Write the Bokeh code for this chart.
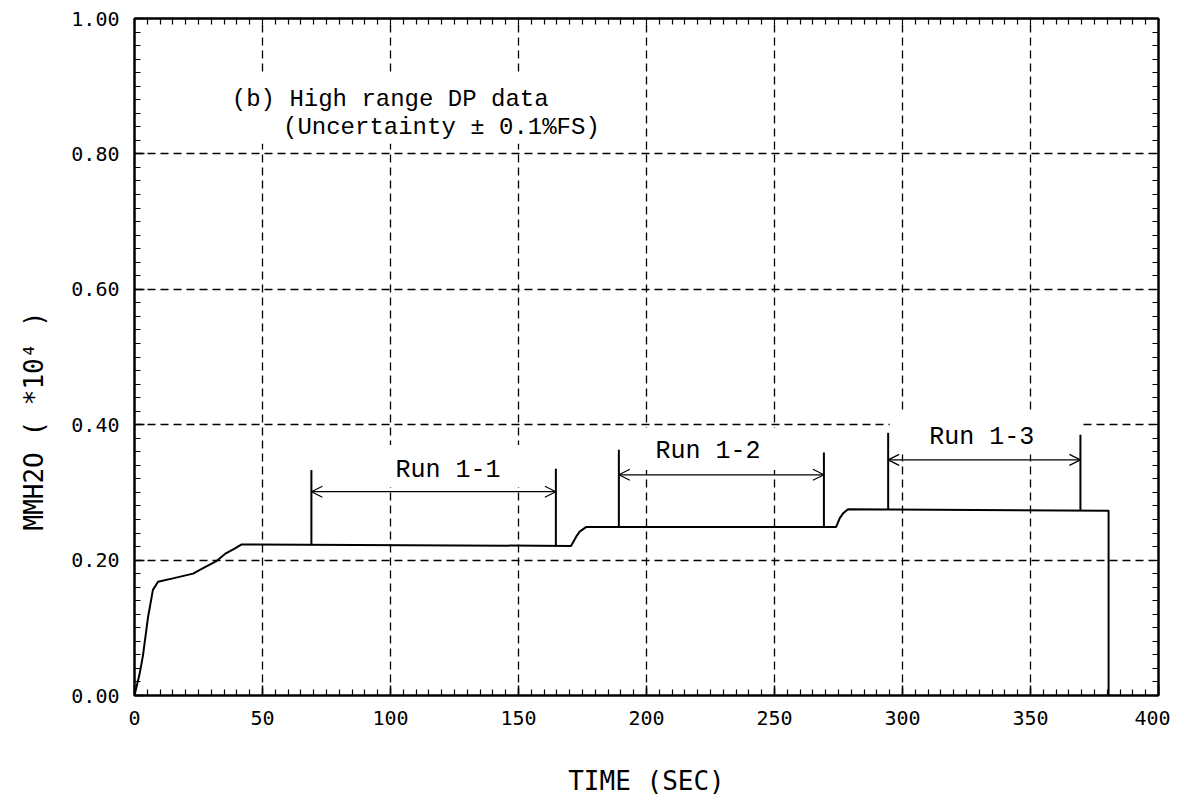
import math
from bokeh.plotting import figure
from bokeh.models import (Range1d, LinearAxis, SingleIntervalTicker, FixedTicker,
                          PrintfTickFormatter, Label, Arrow, OpenHead, Title)
from bokeh.core.properties import value
from bokeh.embed import file_html
from bokeh.resources import INLINE

# ---- data ----
time_s = [0, 2.0, 3.3, 5.3, 7.2, 9.2, 15.0, 22.9, 26.8, 31.8, 35.7, 39.1, 41.7,
          170.5, 172.6, 173.9, 176.5, 274.1, 275.5, 276.8, 278.7, 380.5, 380.5]
dp = [0.0, 0.032, 0.059, 0.116, 0.156, 0.168, 0.173, 0.180, 0.188, 0.198, 0.210, 0.217, 0.223,
      0.221, 0.235, 0.242, 0.249, 0.249, 0.262, 0.269, 0.275, 0.273, 0.0]

run_names = ["Run 1-1", "Run 1-2", "Run 1-3"]
run_start = [69.1, 189.2, 294.4]
run_end = [164.6, 269.3, 369.5]
run_base = [0.222, 0.249, 0.274]
run_top_start = [0.333, 0.363, 0.388]
run_top_end = [0.335, 0.359, 0.385]
run_arrow_y = [0.301, 0.326, 0.348]
run_label_x = [122.5, 224.0, 331.0]
run_label_y = [0.333, 0.360, 0.381]

x_tick_interval = 50
y_tick_interval = 0.2
x_minor_ticks = list(range(0, 401, 5))
y_minor_ticks = [i / 50 for i in range(51)]

TICK_FONT = "DejaVu Sans Mono"
NOTE_FONT = "Liberation Mono"

p = figure(x_range=Range1d(0, 400), y_range=Range1d(0, 1),
           frame_width=1024, frame_height=677,
           min_border_left=133, min_border_right=12, min_border_top=18, min_border_bottom=86,
           output_backend="svg", toolbar_location=None,
           x_axis_label="TIME (SEC)")
p.background_fill_color = "white"
p.border_fill_color = "white"
p.outline_line_color = "black"
p.outline_line_width = 2

xt = SingleIntervalTicker(interval=x_tick_interval, num_minor_ticks=10)
yt = SingleIntervalTicker(interval=y_tick_interval, num_minor_ticks=10)


def style_axis(ax):
    ax.axis_line_color = "black"
    ax.axis_line_width = 2
    ax.major_tick_in = 10
    ax.major_tick_out = 0
    ax.minor_tick_in = 6
    ax.minor_tick_out = 0
    ax.major_tick_line_color = "black"
    ax.minor_tick_line_color = "black"
    ax.major_tick_line_width = 1.5
    ax.minor_tick_line_width = 1.2
    ax.major_label_text_font = TICK_FONT
    ax.major_label_text_font_size = "20px"
    ax.major_label_text_color = "black"
    ax.major_label_standoff = 15


p.xaxis.ticker = xt
p.yaxis.ticker = yt
p.yaxis.formatter = PrintfTickFormatter(format="%.2f")
style_axis(p.xaxis[0])
style_axis(p.yaxis[0])
p.xaxis.axis_label_text_font = TICK_FONT
p.xaxis.axis_label_text_font_size = "26px"
p.xaxis.axis_label_text_font_style = "normal"
p.xaxis.axis_label_text_color = "black"
p.xaxis.axis_label_standoff = 38

# top and right frame edges carry only inward tick marks
top_ax = LinearAxis(ticker=FixedTicker(ticks=[], minor_ticks=x_minor_ticks))
right_ax = LinearAxis(ticker=FixedTicker(ticks=[], minor_ticks=y_minor_ticks))
for ax in (top_ax, right_ax):
    style_axis(ax)
p.add_layout(top_ax, "above")
p.add_layout(right_ax, "right")

# y axis title, placed lower than centre as in the reference
ytitle = Title(text="MMH2O ( *10\u2074 )", align="left", offset=165,
               vertical_align="top", standoff=36,
               text_font=TICK_FONT, text_font_size="26px",
               text_font_style="normal", text_color="black")
p.add_layout(ytitle, "left")

p.grid.grid_line_color = "black"
p.grid.grid_line_width = 1.3
p.grid.grid_line_dash = "8 5"
p.xgrid.ticker = xt
p.ygrid.ticker = yt

# white masks where the plotter left the grid blank behind the annotations
p.quad(left=[36, 69.5, 190, 295], right=[172, 164, 269, 369],
       bottom=[0.815, 0.308, 0.333, 0.356], top=[0.915, 0.37, 0.395, 0.42],
       fill_color="white", line_color=None)

# measured curve
p.line(time_s, dp, line_color="black", line_width=2)

# run markers
p.segment(x0=run_start, y0=run_base, x1=run_start, y1=run_top_start, line_color="black", line_width=2)
p.segment(x0=run_end, y0=run_base, x1=run_end, y1=run_top_end, line_color="black", line_width=2)
for s, e, a in zip(run_start, run_end, run_arrow_y):
    p.add_layout(Arrow(start=OpenHead(size=11, line_width=1.2, line_color="black"),
                       end=OpenHead(size=11, line_width=1.2, line_color="black"),
                       x_start=s, y_start=a, x_end=e, y_end=a,
                       line_color="black", line_width=1.2))
p.text(x=run_label_x, y=run_label_y, text=run_names,
       text_font=value(NOTE_FONT), text_font_size="25px", text_color="black",
       text_align="center", text_baseline="middle")

# title notes
p.add_layout(Label(x=38, y=0.881, text="(b) High range DP data",
                   text_font=NOTE_FONT, text_font_size="24px", text_color="black",
                   text_align="left", text_baseline="middle"))
p.add_layout(Label(x=58, y=0.839, text="(Uncertainty \u00b1 0.1%FS)",
                   text_font=NOTE_FONT, text_font_size="24px", text_color="black",
                   text_align="left", text_baseline="middle"))

open("out.html", "w").write(file_html(p, INLINE))
